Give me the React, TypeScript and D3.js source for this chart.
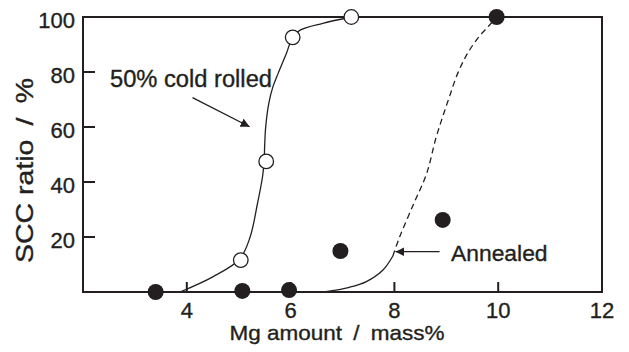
import React from "react";
import * as d3 from "d3";

const W = 629;
const H = 352;

// Open circles: 50% cold rolled
const coldX = [5.04, 5.53, 6.04, 7.17];
const coldY = [11.6, 47.5, 92.6, 100];
// Filled circles: annealed
const annX = [3.4, 5.07, 5.97, 6.96, 8.93, 9.97];
const annY = [0, 0.4, 0.7, 14.9, 26.2, 100];

// Hand-drawn trend curve (cold rolled)
const coldCurveX = [3.87, 4.5, 5.02, 5.22, 5.36, 5.46, 5.49, 5.5, 5.52, 5.58, 5.66, 5.76, 5.92, 6.04, 6.19, 6.62, 7.17];
const coldCurveY = [0, 5.5, 12, 20, 32, 42, 47.5, 53, 60, 68.6, 74.7, 79.5, 86.8, 92.6, 95.3, 97.7, 100];
// Annealed curve: solid part then dashed part
const annSolidX = [6.65, 7.13, 7.46, 7.78, 7.97];
const annSolidY = [0, 1.7, 3.8, 8, 13.1];
const annDashX = [7.97, 8.1, 8.37, 8.62, 8.8, 8.93, 9.06, 9.22, 9.41, 9.63, 9.83, 9.97];
const annDashY = [13.1, 20, 32, 43, 56, 63.7, 71, 79.5, 86.8, 92.8, 97, 100];

const xTicks = [4, 6, 8, 10, 12];
const yTicks = [20, 40, 60, 80, 100];

const FONT = "'Liberation Sans', Arial, Helvetica, sans-serif";
const INK = "#231f20";

export default function App() {
  const x = d3.scaleLinear().domain([2, 12]).range([83, 602]);
  const y = d3.scaleLinear().domain([0, 100]).range([292, 17]);

  const line = d3
    .line<[number, number]>()
    .x((d) => x(d[0]))
    .y((d) => y(d[1]))
    .curve(d3.curveCatmullRom.alpha(0.5));

  const zip = (a: number[], b: number[]) => a.map((v, i) => [v, b[i]] as [number, number]);

  const coldPath = line(zip(coldCurveX, coldCurveY)) || "";
  const annSolidPath = line(zip(annSolidX, annSolidY)) || "";
  const annDashPath = line(zip(annDashX, annDashY)) || "";

  // annotation arrows in data coordinates
  const arrow1 = { x1: 4.11, y1: 70.7, x2: 5.21, y2: 60.1 };
  const arrow2 = { x1: 8.87, y1: 14.65, x2: 8.02, y2: 14.65 };

  const textStyle = { fill: INK, stroke: INK, strokeWidth: 0.35 };

  return (
    <svg
      width={W}
      height={H}
      style={{ position: "absolute", left: 0, top: 0, background: "#fff" }}
      fontFamily={FONT}
    >
      <defs>
        <marker
          id="ah"
          viewBox="0 0 10 10"
          refX="10"
          refY="5"
          markerWidth="9"
          markerHeight="9"
          markerUnits="userSpaceOnUse"
          orient="auto"
        >
          <path d="M0,0 L10,5 L0,10 Z" fill={INK} />
        </marker>
      </defs>
      <rect x={0} y={0} width={W} height={H} fill="#fff" />

      {/* curves */}
      <path d={coldPath} fill="none" stroke={INK} strokeWidth={1.3} />
      <path d={annSolidPath} fill="none" stroke={INK} strokeWidth={1.3} />
      <path d={annDashPath} fill="none" stroke={INK} strokeWidth={1.3} strokeDasharray="6,4" />

      {/* frame */}
      <rect
        x={x(2)}
        y={y(100)}
        width={x(12) - x(2)}
        height={y(0) - y(100)}
        fill="none"
        stroke={INK}
        strokeWidth={2}
      />

      {/* y ticks */}
      {yTicks.map((t) => (
        <g key={"y" + t}>
          <line x1={x(2)} x2={x(2) + 12} y1={y(t)} y2={y(t)} stroke={INK} strokeWidth={2} />
          <text x={x(2) - 8} y={y(t) + 10.5} textAnchor="end" fontSize={22} {...textStyle}>
            {t}
          </text>
        </g>
      ))}
      {/* x ticks */}
      {xTicks.map((t) => (
        <g key={"x" + t}>
          {t < 12 && (
            <line x1={x(t)} x2={x(t)} y1={y(0)} y2={y(0) - 10} stroke={INK} strokeWidth={2} />
          )}
          <text x={x(t)} y={318} textAnchor="middle" fontSize={22} {...textStyle}>
            {t}
          </text>
        </g>
      ))}

      {/* axis titles */}
      <text
        x={337}
        y={340}
        textAnchor="middle"
        fontSize={21}
        textLength={215}
        lengthAdjust="spacingAndGlyphs"
        {...textStyle}
      >
        {"Mg amount\u2002/\u2002mass%"}
      </text>
      <text
        transform={`translate(33,170.5) rotate(-90)`}
        textAnchor="middle"
        fontSize={24}
        textLength={185}
        lengthAdjust="spacingAndGlyphs"
        {...textStyle}
      >
        {"SCC ratio\u2002/\u2002%"}
      </text>

      {/* annotations */}
      <text
        x={x(2.52)}
        y={y(74.4)}
        fontSize={23}
        textLength={162}
        lengthAdjust="spacingAndGlyphs"
        {...textStyle}
      >
        50% cold rolled
      </text>
      <line
        x1={x(arrow1.x1)}
        y1={y(arrow1.y1)}
        x2={x(arrow1.x2)}
        y2={y(arrow1.y2)}
        stroke={INK}
        strokeWidth={1.3}
        markerEnd="url(#ah)"
      />
      <text
        x={x(9.09)}
        y={y(11.4)}
        fontSize={22.5}
        textLength={96.6}
        lengthAdjust="spacingAndGlyphs"
        {...textStyle}
      >
        Annealed
      </text>
      <line
        x1={x(arrow2.x1)}
        y1={y(arrow2.y1)}
        x2={x(arrow2.x2)}
        y2={y(arrow2.y2)}
        stroke={INK}
        strokeWidth={1.3}
        markerEnd="url(#ah)"
      />

      {/* points */}
      {annX.map((v, i) => (
        <circle key={"a" + i} cx={x(v)} cy={y(annY[i])} r={8} fill={INK} />
      ))}
      {coldX.map((v, i) => (
        <circle
          key={"c" + i}
          cx={x(v)}
          cy={y(coldY[i])}
          r={7.3}
          fill="#fff"
          stroke={INK}
          strokeWidth={1.3}
        />
      ))}
    </svg>
  );
}
